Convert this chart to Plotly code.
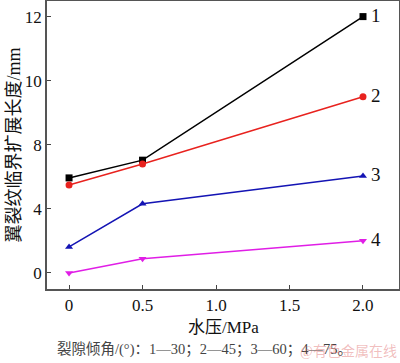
import plotly.graph_objects as go

pressure = [0, 0.5, 2.0]
# plotted positions on the y axis (tick positions 0,3,6,9,12 carry labels 0,4,8,10,12)
s1 = [4.45, 5.28, 12.0]
s2 = [4.12, 5.10, 8.25]
s3 = [1.22, 3.24, 4.54]
s4 = [0.0, 0.67, 1.51]
series_names = ["1", "2", "3", "4"]
colors = ["#000000", "#e8221e", "#1414b4", "#e01ee6"]
symbols = ["square", "circle", "triangle-up", "triangle-down"]
ytickvals = [0, 3, 6, 9, 12]
yticktext = ["0", "4", "8", "10", "12"]
xtickvals = [0, 0.5, 1.0, 1.5, 2.0]
xticktext = ["0", "0.5", "1.0", "1.5", "2.0"]

SERIF = "Liberation Serif, Times New Roman, Noto Sans CJK SC, serif"

fig = go.Figure()
for name, ys, c, sym in zip(series_names, [s1, s2, s3, s4], colors, symbols):
    fig.add_trace(go.Scatter(x=pressure, y=ys, mode="lines+markers",
                             line=dict(color=c, width=1.5),
                             marker=dict(symbol=sym, size=7, color=c),
                             showlegend=False, cliponaxis=False))
    fig.add_annotation(x=pressure[-1], y=ys[-1], text=name, showarrow=False,
                       xanchor="left", xshift=6, yshift=1,
                       font=dict(family=SERIF, size=19, color="#111"))

fig.update_layout(
    width=400, height=363,
    margin=dict(l=47, r=1, t=1, b=74, autoexpand=False),
    paper_bgcolor="white", plot_bgcolor="white",
    font=dict(family=SERIF, size=17, color="#111"),
)
fig.update_xaxes(range=[-0.15, 2.245], tickvals=xtickvals, ticktext=xticktext,
                 ticks="inside", ticklen=4, tickcolor="#444", showgrid=False,
                 zeroline=False, showline=True, mirror=True, linecolor="#555",
                 linewidth=1.5, tickfont=dict(family=SERIF, size=17), automargin=False)
fig.update_yaxes(range=[-0.75, 12.73], tickvals=ytickvals, ticktext=yticktext,
                 ticks="inside", ticklen=4, tickcolor="#444", showgrid=False,
                 zeroline=False, showline=True, mirror=True, linecolor="#555",
                 linewidth=1.5, tickfont=dict(family=SERIF, size=17), automargin=False)

fig.add_annotation(xref="paper", yref="paper", x=0.5, y=-0.135, yanchor="middle",
                   text="水压/MPa", showarrow=False,
                   font=dict(family=SERIF, size=17, color="#111"))
fig.add_annotation(xref="paper", yref="paper", x=-0.095, y=0.5, xanchor="center",
                   yanchor="middle",
                   text="翼裂纹临界扩展长度/mm", textangle=-90, showarrow=False,
                   font=dict(family=SERIF, size=18, color="#111"))
fig.add_annotation(xref="paper", yref="paper", x=0.022, y=-0.21, xanchor="left",
                   yanchor="middle",
                   text="裂隙倾角/(°)：1—30；2—45；3—60；4—75。", showarrow=False,
                   font=dict(family=SERIF, size=14.5, color="#444"))
fig.add_annotation(xref="paper", yref="paper", x=1.0, y=-0.215, xanchor="right",
                   yanchor="middle", text="@有色金属在线", showarrow=False,
                   font=dict(family=SERIF, size=14, color="rgba(225,110,110,0.45)"))

fig.write_html("out.html", config={"displayModeBar": False},
               post_script="document.body.style.margin='0';")
